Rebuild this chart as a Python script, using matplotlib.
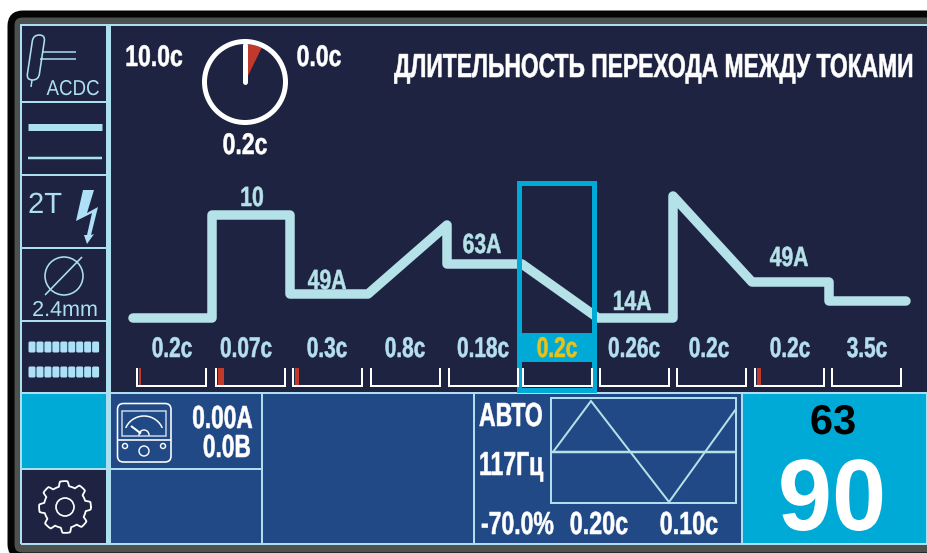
import matplotlib
matplotlib.use("Agg")
import matplotlib.pyplot as plt
import numpy as np
from matplotlib.patches import Circle, FancyBboxPatch, Polygon, Rectangle, Wedge
from matplotlib.patheffects import AbstractPathEffect
from matplotlib.text import Text
from matplotlib.transforms import Affine2D, Bbox

# current profile, in screen pixels
profile_x = [133, 212, 212, 290, 290, 368, 447, 447, 522, 598, 673, 673, 752, 829, 829, 906]
profile_y = [318, 318, 215, 215, 294, 294, 225, 264, 264, 318, 318, 196, 282, 282, 301, 301]

profile_labels = ["10", "49A", "63A", "14A", "49A"]
profile_label_x = [252, 327, 482, 632, 789]
profile_label_y = [206, 289, 253, 310, 266]

step_times = ["0.2c", "0.07c", "0.3c", "0.8c", "0.18c", "0.2c", "0.26c", "0.2c", "0.2c", "3.5c"]
step_x = [172, 246, 327, 405, 483, 557, 634, 709, 790, 867]
step_left = [137, 216, 293, 371, 449, 523, 600, 677, 755, 832]
step_red = [2.5, 6, 4, 0, 0, 0, 0, 0, 4, 0]
selected = 5

wave_x = [553, 591, 669, 736]
wave_y = [452, 401, 502, 409]

BG = "#1d2340"
PANEL = "#214985"
CYAN = "#00aad6"
LINE = "#aedff0"
PROFILE = "#b5e1e8"
RED = "#c0392b"
SANS = ["Liberation Sans", "DejaVu Sans"]
PT = 0.72


class Squeeze(AbstractPathEffect):
    # narrow a text horizontally about its anchor, no condensed font is installed
    def __init__(self, fx, cx, stroke=0.0):
        super().__init__()
        self.fx = fx
        self.cx = cx
        self.stroke = stroke

    def draw_path(self, renderer, gc, tpath, affine, rgbFace=None):
        squeeze = Affine2D().translate(-self.cx, 0).scale(self.fx, 1).translate(self.cx, 0)
        gc0 = renderer.new_gc()
        gc0.copy_properties(gc)
        if self.stroke:
            gc0.set_foreground(rgbFace)
            gc0.set_linewidth(self.stroke)
        renderer.draw_path(gc0, tpath, affine + squeeze, rgbFace)
        gc0.restore()


class NarrowText(Text):
    # report the squeezed extent, not the width before Squeeze
    fx = 1.0

    def get_window_extent(self, renderer=None, dpi=None):
        box = super().get_window_extent(renderer, dpi)
        cx = self.get_position()[0]
        return Bbox([[cx + (box.x0 - cx) * self.fx, box.y0], [cx + (box.x1 - cx) * self.fx, box.y1]])


fig = plt.figure(figsize=(9.28, 5.53), dpi=100)
ax = fig.add_axes([0, 0, 1, 1])
ax.set_xlim(0, 928)
ax.set_ylim(553, 0)
ax.axis("off")


def rect(x0, y0, x1, y1, fc="none", ec="none", lw=0, z=1):
    ax.add_patch(Rectangle((x0, y0), x1 - x0, y1 - y0, fc=fc, ec=ec, lw=lw * PT, zorder=z))


def line(xs, ys, color=LINE, lw=1.5, z=3, cap="butt", join="miter"):
    ax.plot(xs, ys, color=color, lw=lw * PT, zorder=z, solid_capstyle=cap, solid_joinstyle=join)


def label(x, y, s, size, color="white", ha="center", bold=True, fx=0.75, z=6):
    t = NarrowText(x, y, s, fontsize=size, color=color, ha=ha, va="baseline",
                   fontweight="bold" if bold else "normal", family=SANS, zorder=z,
                   path_effects=[Squeeze(fx, x, 0.4 if bold and fx < 0.9 else 0.0)])
    t.fx = fx
    ax.add_artist(t)


# bezel
ax.add_patch(FancyBboxPatch((11, 14), 950, 542, boxstyle="round,pad=0,rounding_size=12",
                            fc="#4d5150", ec="#050505", lw=7 * PT, zorder=0))

# panels
rect(21, 25, 940, 544, fc=BG, z=1)
rect(109, 393, 474, 544, fc=PANEL, z=1)
rect(474, 393, 742, 544, fc=PANEL, z=1)
rect(742, 393, 928, 544, fc=CYAN, z=1)
rect(21, 393, 107, 469, fc=CYAN, z=1)

# frame lines
line([21, 928], [24.5, 24.5], lw=2)
line([21, 928], [544, 544], lw=2)
line([21, 21], [24, 544], lw=2)
line([108, 108], [24, 544], lw=5)
line([21, 928], [393, 393], lw=2)
for yy in (102, 175, 248, 321, 469):
    line([21, 107], [yy, yy], lw=2)
line([109, 262], [469, 469], lw=2)
line([262, 262], [393, 544], lw=2)
line([474, 474], [393, 544], lw=2)
line([742, 742], [393, 544], lw=2)
line([927, 927], [393, 544], lw=2)

# torch icon
skew = Affine2D(np.array([[1, -0.15, 8.5], [0, 1, 0], [0, 0, 1]]))
ax.add_patch(FancyBboxPatch((30, 35), 12, 45, boxstyle="round,pad=0,rounding_size=6",
                            transform=skew + ax.transData,
                            fc="none", ec=LINE, lw=1.6 * PT, zorder=3))
line([42, 76], [52, 52], lw=1.5)
line([40, 76], [59, 59], lw=1.5)
line([32, 31], [80, 87], lw=1.5)
label(73, 95, "ACDC", 15.5, LINE, bold=False, fx=0.87)

# output line icon
line([28, 102], [126.5, 126.5], lw=7)
line([28, 102], [158, 158], lw=2.5)

# 2T and arc
label(45, 213, "2T", 21, LINE, bold=False, fx=1)
ax.add_patch(Polygon([(83, 190), (94, 190), (87, 213), (98, 207), (91, 235), (94, 234), (87, 244),
                      (84, 235), (87, 235), (92, 213), (76, 221)], fc="#aee0f8", zorder=3))

# electrode diameter
ax.add_patch(Circle((64, 276), 19, fc="none", ec=LINE, lw=1.6 * PT, zorder=3))
line([45, 82], [295, 257], lw=1.6)
label(65, 316, "2.4mm", 15.5, LINE, bold=False, fx=1)

# dotted bars
for yy in (347, 372):
    for xx in np.arange(28.5, 93, 7.95):
        ax.add_patch(FancyBboxPatch((xx, yy - 5.5), 7, 11, boxstyle="round,pad=0,rounding_size=1.5",
                                    fc="#aee0f8", ec="none", zorder=3))

# gear
ang = np.linspace(0, 2 * np.pi, 361)
r_gear = 23.5 + 2.4 * np.clip(2.6 * np.cos(8 * ang + 0.4), -1, 1)
ax.plot(65 + r_gear * np.cos(ang), 507 + r_gear * np.sin(ang), color="white", lw=1.8 * PT, zorder=3)
ax.add_patch(Circle((65, 507), 9, fc="none", ec="white", lw=1.7 * PT, zorder=3))

# timer dial
ax.add_patch(Circle((245, 82), 40.5, fc="none", ec="white", lw=5 * PT, zorder=3))
ax.add_patch(Wedge((245, 82), 38, -90, -64, fc=RED, ec="none", zorder=2))
line([245, 245], [45, 82], color="white", lw=5, cap="round")
label(154, 66, "10.0c", 21.5, fx=0.77)
label(319, 66, "0.0c", 21.5, fx=0.77)
label(245, 154, "0.2c", 21.5, fx=0.77)
label(654, 77, "ДЛИТЕЛЬНОСТЬ ПЕРЕХОДА МЕЖДУ ТОКАМИ", 24, fx=0.685)

# profile
line(profile_x, profile_y, color=PROFILE, lw=9.5, z=4, cap="round", join="round")
for s, xx, yy in zip(profile_labels, profile_label_x, profile_label_y):
    label(xx, yy, s, 20, PROFILE, fx=0.76)

# selected step
rect(519.5, 183, 594.5, 390, ec=CYAN, lw=5, z=5)
rect(519, 333, 595, 362, fc=CYAN, z=2)

# step times and brackets
for i, (s, xx, left, red) in enumerate(zip(step_times, step_x, step_left, step_red)):
    label(xx, 357, s, 20.5, "#e8c21a" if i == selected else "#b5dff0", fx=0.73)
    if red:
        rect(left + 2, 368, left + 2 + red, 386, fc=RED, z=3)
    line([left, left, left + 69, left + 69], [368, 386, 386, 368], color="white", lw=2, z=6)

# meter icon
ax.add_patch(FancyBboxPatch((117.5, 403.5), 53.5, 58.5, boxstyle="round,pad=0,rounding_size=6",
                            fc="none", ec="white", lw=1.6 * PT, zorder=3))
rect(122, 411, 166, 436, ec="#c8d8e8", lw=1.5, z=3)
line([118, 171], [439.5, 439.5], color="white", lw=1.6)
t = np.radians(np.linspace(206, 334, 40))
ax.plot(144 + 20 * np.cos(t), 436 + 20 * np.sin(t), color="white", lw=1.5 * PT, zorder=3)
line([131, 141], [426, 433.5], color="white", lw=2)
t = np.radians(np.linspace(180, 360, 20))
ax.plot(144 + 5 * np.cos(t), 435 + 5 * np.sin(t), color="white", lw=1.4 * PT, zorder=3)
for cx, cy, r in ((125, 446, 2.5), (163, 446, 2.5), (144, 451, 5)):
    ax.add_patch(Circle((cx, cy), r, fc="none", ec="white", lw=1.4 * PT, zorder=3))
label(253, 428, "0.00A", 23, ha="right", fx=0.71)
label(251, 457, "0.0B", 23, ha="right", fx=0.71)

# AC waveform box
rect(551.5, 397.5, 736.5, 503, ec=LINE, lw=2, z=3)
line([552, 736], [452, 452], color=PROFILE, lw=2.5)
line(wave_x, wave_y, color=PROFILE, lw=2)
label(479, 426, "АВТО", 24, ha="left", fx=0.69)
label(479, 475, "117Гц", 24, ha="left", fx=0.69)
label(481, 534, "-70.0%", 23, ha="left", fx=0.72)
label(599, 534, "0.20c", 23, fx=0.73)
label(689, 534, "0.10c", 23, fx=0.73)

# current readout
label(833, 434, "63", 30, "black", fx=1)
label(832, 530, "90", 73, "white", fx=0.96)

fig.savefig("out.png", dpi=100, facecolor="white")
